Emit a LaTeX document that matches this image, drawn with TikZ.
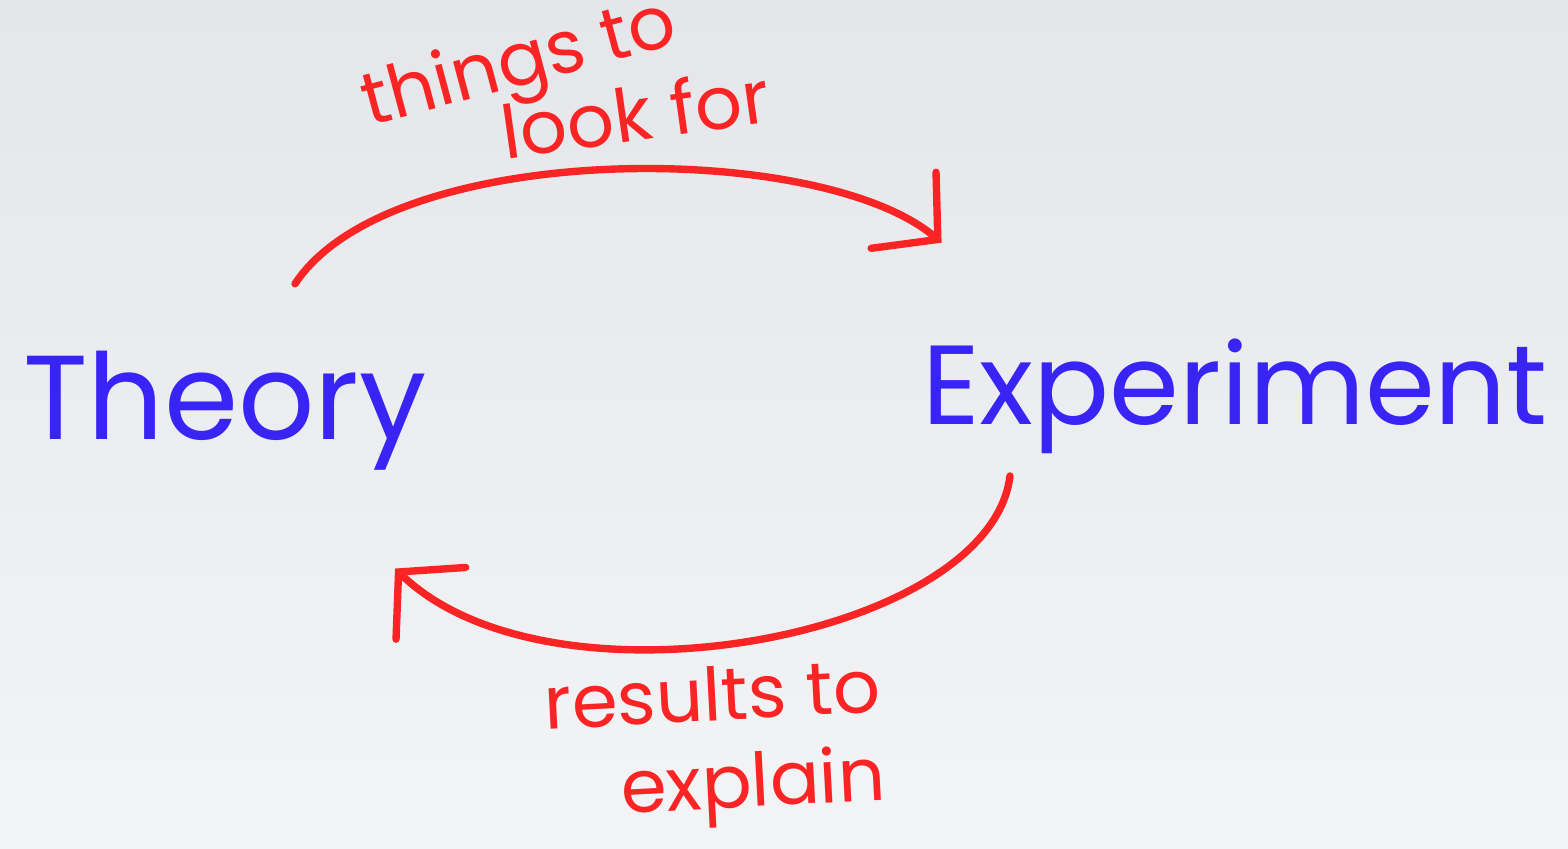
\documentclass[tikz,border=0pt]{standalone}
\usepackage{fontspec}
\setmainfont{Poppins}
\usetikzlibrary{arrows.meta}

\definecolor{blupen}{RGB}{56,36,245}
\definecolor{redpen}{RGB}{250,36,36}
\definecolor{fondo}{RGB}{229,230,234}
\definecolor{fondochiaro}{RGB}{243,244,246}

\begin{document}
\begin{tikzpicture}[
  parola/.style={text=blupen, font=\fontsize{32}{38}\selectfont, inner sep=0pt},
  nota/.style={text=redpen, font=\fontsize{21}{25}\selectfont, inner sep=0pt},
  freccia/.style={draw=redpen, line width=2.1pt, line cap=round,
    -{Straight Barb[length=4.5mm, width=10mm, line cap=round]}}
]

%--------------------------------------------------------------
% Sfondo
%--------------------------------------------------------------
\useasboundingbox (0,0) rectangle (15.68,8.49);
\shade[top color=fondo, bottom color=fondochiaro] (0,0) rectangle (15.68,8.49);

%--------------------------------------------------------------
% Parole principali
%--------------------------------------------------------------
\node[parola, anchor=base] (theory) at (2.25,4.09) {\fontsize{34}{40}\selectfont Theory};
\node[parola, anchor=base] (experiment) at (12.35,4.24) {Experiment};

%--------------------------------------------------------------
% Frecce e loro note
%--------------------------------------------------------------
\draw[freccia] ([shift={(0.70,0.67)}]theory.north)
  .. controls (3.9,7.1) and (8.2,7.1) .. ([shift={(0.20,0.96)}]experiment.north west);
\draw[freccia] ([shift={(-2.25,-0.21)}]experiment.south)
  .. controls (9.9,2.1) and (5.5,1.3) .. ([shift={(1.70,-0.97)}]theory.south);

\node[nota, rotate=15] (cerca) at (5.20,7.82) {things to};
\node[nota, rotate=8] (cerca2) at (6.35,7.36) {look for};
\node[nota, align=right, rotate=3] (spiega) at (7.15,1.02) {results to\\explain};

\end{tikzpicture}
\end{document}
